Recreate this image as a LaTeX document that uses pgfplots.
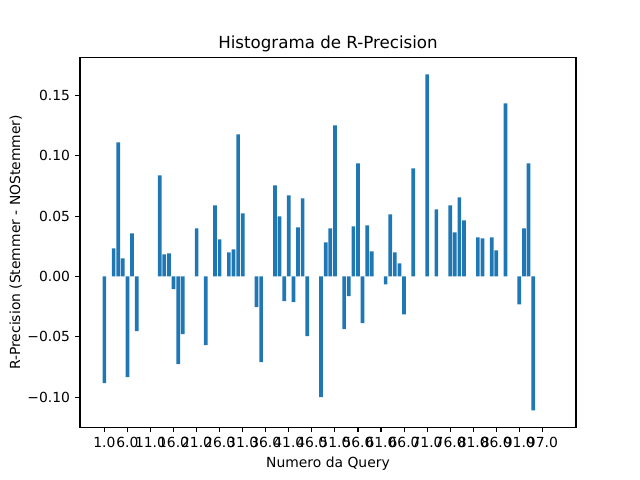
\documentclass[border=0pt]{standalone}
\usepackage{fontspec}
\setmainfont{DejaVu Sans}
\usepackage{pgfplots}
\pgfplotsset{compat=1.18}
\definecolor{c1}{HTML}{1F77B4}
\begin{document}
\begin{tikzpicture}
\path[use as bounding box] (0,0) rectangle (460.8pt,345.6pt);
\begin{axis}[
  at={(57.6pt,38.016pt)}, anchor=south west,
  scale only axis, width=357.12pt, height=266.112pt,
  xmin=-5.29, xmax=102.29, ymin=-0.1249, ymax=0.1813,
  axis line style={line width=0.8pt, black},
  tick align=outside, major tick length=3.5pt,
  every tick/.style={black, line width=0.8pt},
  xtick pos=lower, ytick pos=left,
  xtick={0,5,...,95},
  xticklabels={1.0,6.0,11.0,16.0,21.0,26.0,31.0,36.0,41.0,46.0,51.0,56.0,61.0,66.0,71.0,76.0,81.0,86.0,91.0,97.0},
  ytick={-0.10,-0.05,0,0.05,0.10,0.15},
  yticklabels={−0.10,−0.05,0.00,0.05,0.10,0.15},
  tick label style={font=\fontsize{10}{12}\selectfont},
  xticklabel style={inner sep=0pt, yshift=-3.5pt},
  yticklabel style={inner sep=0pt, xshift=-3.5pt},
  label style={font=\fontsize{10}{12}\selectfont},
  xlabel={Numero da Query},
  xlabel style={yshift=-3.4pt},
  ylabel={R-Precision (Stemmer - NOStemmer)},
  ylabel style={yshift=0.5pt},
  title={Histograma de R-Precision},
  title style={font=\fontsize{12}{14}\selectfont, yshift=-5.6pt},
  ybar, bar width=0.8,
]
\addplot[fill=c1, draw=none] coordinates {
(0,-0.0884) (2,0.0232) (3,0.1110) (4,0.0149) (5,-0.0834) (6,0.0356) (7,-0.0453)
(12,0.0837) (13,0.0182) (14,0.0191) (15,-0.0105) (16,-0.0727) (17,-0.0478)
(20,0.0398) (22,-0.0569) (24,0.0588) (25,0.0307) (27,0.0199) (28,0.0224)
(29,0.1177) (30,0.0522) (33,-0.0254) (34,-0.0710) (37,0.0754) (38,0.0497)
(39,-0.0204) (40,0.0671) (41,-0.0213) (42,0.0406) (43,0.0646) (44,-0.0494)
(47,-0.1000) (48,0.0282) (49,0.0398) (50,0.1251) (52,-0.0436) (53,-0.0163)
(54,0.0414) (55,0.0936) (56,-0.0387) (57,0.0423) (58,0.0207) (61,-0.0066)
(62,0.0514) (63,0.0199) (64,0.0108) (65,-0.0315) (67,0.0895) (70,0.1674)
(72,0.0555) (75,0.0588) (76,0.0365) (77,0.0655) (78,0.0464) (81,0.0323)
(82,0.0315) (84,0.0323) (85,0.0215) (87,0.1434) (90,-0.0232) (91,0.0398)
(92,0.0936) (93,-0.1110)
};
\end{axis}
\end{tikzpicture}
\end{document}
